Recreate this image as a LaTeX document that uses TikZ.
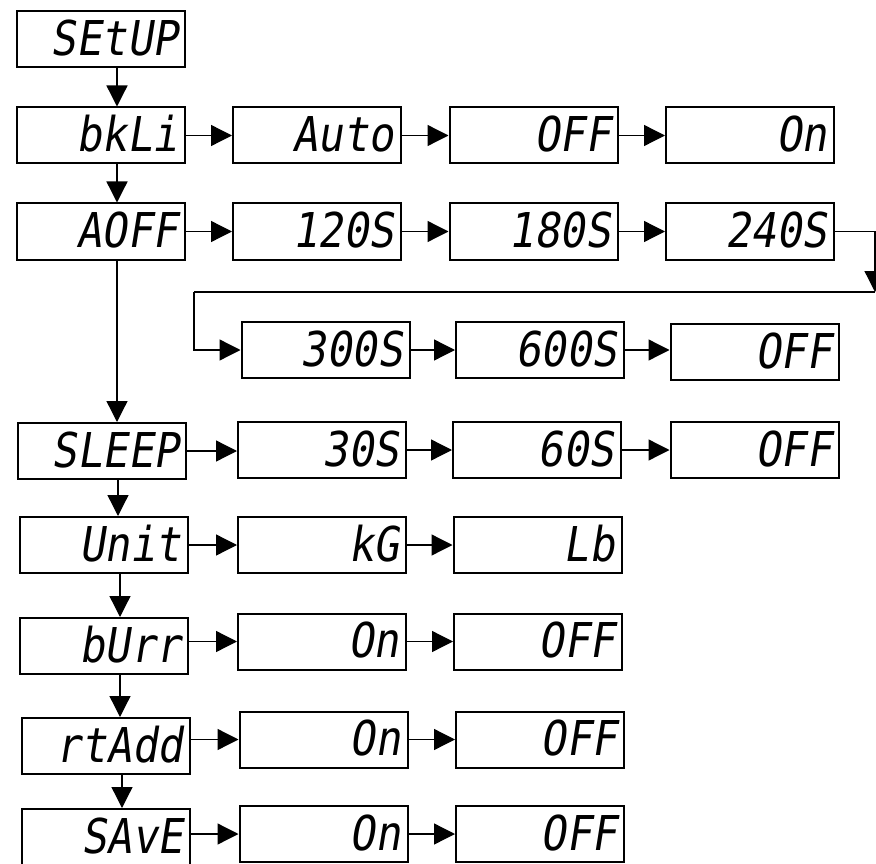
\documentclass[tikz,border=0pt]{standalone}
\usepackage{fontspec}
\usetikzlibrary{arrows.meta}
\newfontfamily\lcdfont[FakeSlant=0.16,FakeStretch=0.88]{DejaVu Sans Mono}
\begin{document}
\begin{tikzpicture}[x=1pt,y=-1pt,
    lcdbox/.style={draw,line width=2pt,minimum height=56pt,text width=154pt,
      inner xsep=7pt,align=right,text height=35pt,text depth=3pt,
      font=\lcdfont\fontsize{48}{48}\selectfont},
    arr/.style={line width=1.3pt,-{Triangle[length=21pt,width=21pt]}},
    link/.style={line width=1.3pt}]
  \useasboundingbox (0,0) rectangle (876,864);
  % menu column
  \node[lcdbox] (setup) at (101,39.5) {SEtUP};
  \node[lcdbox] (bkli)  at (101,135.5) {bkLi};
  \node[lcdbox] (aoff)  at (101,231.5) {AOFF};
  \node[lcdbox] (sleep) at (102,451) {SLEEP};
  \node[lcdbox] (unit)  at (104,545) {Unit};
  \node[lcdbox] (burr)  at (104,646) {bUrr};
  \node[lcdbox] (rtadd) at (106,746) {rtAdd};
  \node[lcdbox] (save)  at (106,837) {SAvE};
  \foreach \a/\b in {setup/bkli,bkli/aoff,aoff/sleep,sleep/unit,unit/burr,burr/rtadd,rtadd/save}
    \draw[arr] ([xshift=16pt]\a.south) -- ([xshift=16pt]\a.south |- \b.north);
  % backlight
  \node[lcdbox] (bkauto) at (317,135.5) {Auto};
  \node[lcdbox] (bkoff)  at (533.5,135.5) {OFF};
  \node[lcdbox] (bkon)   at (750,135.5) {On};
  \draw[arr] (bkli) -- (bkauto);
  \draw[arr] (bkauto) -- (bkoff);
  \draw[arr] (bkoff) -- (bkon);
  % auto off
  \node[lcdbox] (t120) at (317,231.5) {120S};
  \node[lcdbox] (t180) at (533.5,231.5) {180S};
  \node[lcdbox] (t240) at (750,231.5) {240S};
  \node[lcdbox] (t300) at (325.5,350) {300S};
  \node[lcdbox] (t600) at (540,350) {600S};
  \node[lcdbox] (aooff) at (754.5,352) {OFF};
  \coordinate (wrapR) at (875,292);
  \coordinate (wrapL) at (194,292);
  \draw[arr] (aoff) -- (t120);
  \draw[arr] (t120) -- (t180);
  \draw[arr] (t180) -- (t240);
  \draw[arr] (t240.east) -| (wrapR);
  \draw[link] (wrapR) -- (wrapL);
  \draw[arr] (wrapL) |- (t300.west);
  \draw[arr] (t300) -- (t600);
  \draw[arr] (t600.east) -- (aooff.west |- t600.east);
  % sleep
  \node[lcdbox] (s30)  at (322,450) {30S};
  \node[lcdbox] (s60)  at (537,450) {60S};
  \node[lcdbox] (soff) at (754.5,450) {OFF};
  \draw[arr] (sleep.east) -- (s30.west |- sleep.east);
  \draw[arr] (s30) -- (s60);
  \draw[arr] (s60) -- (soff);
  % unit
  \node[lcdbox] (ukg) at (322,545) {kG};
  \node[lcdbox] (ulb) at (537.5,545) {Lb};
  \draw[arr] (unit) -- (ukg);
  \draw[arr] (ukg) -- (ulb);
  % buzzer
  \node[lcdbox] (bon)  at (322,641.5) {On};
  \node[lcdbox] (boff) at (538,641.5) {OFF};
  \draw[arr] (burr.east |- bon.west) -- (bon);
  \draw[arr] (bon) -- (boff);
  % rtAdd
  \node[lcdbox] (ron)  at (323.5,739.5) {On};
  \node[lcdbox] (roff) at (540,739.5) {OFF};
  \draw[arr] (rtadd.east |- ron.west) -- (ron);
  \draw[arr] (ron) -- (roff);
  % save
  \node[lcdbox] (von)  at (323.5,834) {On};
  \node[lcdbox] (voff) at (540,834) {OFF};
  \draw[arr] (save.east |- von.west) -- (von);
  \draw[arr] (von) -- (voff);
\end{tikzpicture}
\end{document}
